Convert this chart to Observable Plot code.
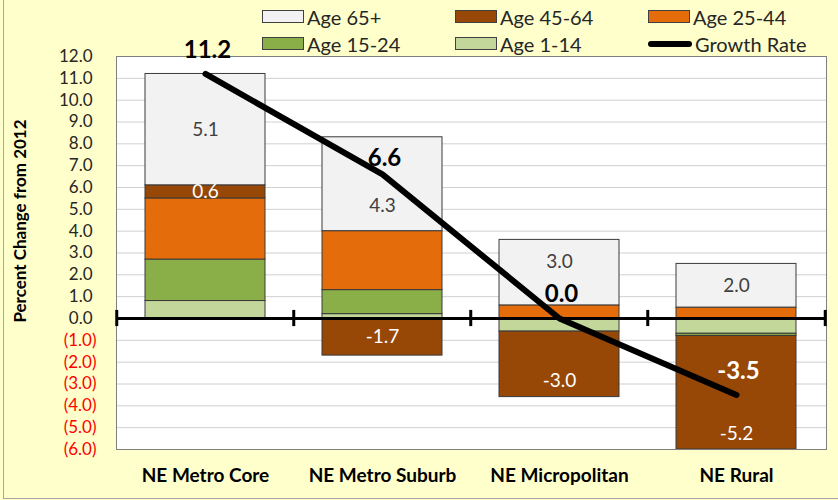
<!DOCTYPE html>
<html><head><meta charset="utf-8">
<script src="https://cdn.jsdelivr.net/npm/d3@7"></script>
<script src="https://cdn.jsdelivr.net/npm/@observablehq/plot@0.6"></script>
<style>
html,body{margin:0;padding:0;overflow:hidden;}
#chart{position:relative;width:838px;height:500px;background:#FFFFCC;font-family:Lato,"Open Sans",sans-serif;overflow:hidden;}
#edge{position:absolute;left:3px;top:-3px;right:-5px;bottom:1px;border:1px solid #a6a6a6;pointer-events:none;}
#legend{position:absolute;left:262px;top:3px;display:grid;grid-template-columns:193px 193px auto;grid-auto-rows:27px;font-size:20px;color:#262626;}
.li{display:flex;align-items:center;gap:3px;}
.sw{width:42px;height:13px;border:1px solid #404040;box-sizing:border-box;}
.ln{width:44px;height:6px;background:#000;border-radius:3px;}
#chart svg{position:absolute;left:0;top:0;}
</style></head><body>
<div id="chart"><div id="edge"></div><div id="legend"></div></div>
<script>
// ---- data ----
const categories = ["NE Metro Core", "NE Metro Suburb", "NE Micropolitan", "NE Rural"];
const ageGroups = ["Age 1-14", "Age 15-24", "Age 25-44", "Age 45-64", "Age 65+"];
const age1to14  = [0.8, 0.2, -0.6, -0.7];
const age15to24 = [1.9, 1.1, 0.0, -0.1];
const age25to44 = [2.8, 2.7, 0.6, 0.5];
const age45to64 = [0.6, -1.7, -3.0, -5.2];
const age65plus = [5.1, 4.3, 3.0, 2.0];
const growthRate = [11.2, 6.6, 0.0, -3.5];
const yTicks = [-6, -5, -4, -3, -2, -1, 0, 1, 2, 3, 4, 5, 6, 7, 8, 9, 10, 11, 12];
const legendOrder = ["Age 65+", "Age 45-64", "Age 25-44", "Age 15-24", "Age 1-14", "Growth Rate"];

// ---- styling ----
const colors = {
  "Age 1-14": "#C4D79B",
  "Age 15-24": "#8AAE48",
  "Age 25-44": "#E46C0A",
  "Age 45-64": "#974706",
  "Age 65+": "#F2F2F2"
};
const seriesValues = {
  "Age 1-14": age1to14, "Age 15-24": age15to24, "Age 25-44": age25to44,
  "Age 45-64": age45to64, "Age 65+": age65plus
};
// label nudges (data units) to keep segment labels clear of the growth labels
const labelNudge = {
  "NE Metro Suburb|Age 65+": -1.0,
  "NE Micropolitan|Age 65+": 0.5,
  "NE Micropolitan|Age 45-64": -0.75,
  "NE Rural|Age 45-64": -1.9
};
const growthLabelNudge = {"NE Metro Suburb": -0.35};

// stacked segments (positives up from 0, negatives down from 0)
const segments = [];
categories.forEach((cat, i) => {
  let pos = 0, neg = 0;
  for (const g of ageGroups) {
    const v = seriesValues[g][i];
    if (v === 0) continue;
    let y1, y2;
    if (v > 0) { y1 = pos; y2 = pos + v; pos = y2; }
    else { y1 = neg; y2 = neg + v; neg = y2; }
    segments.push({cat, group: g, value: v, y1, y2});
  }
});
const labels = segments
  .filter(d => d.group === "Age 65+" || d.group === "Age 45-64")
  .map(d => ({...d, y: (d.y1 + d.y2) / 2 + (labelNudge[d.cat + "|" + d.group] || 0)}));
const growth = categories.map((cat, i) => ({cat, value: growthRate[i], ly: growthRate[i] + (growthLabelNudge[cat] || 0)}));

const W = 838, H = 500, mL = 116, mR = 12, mT = 56, mB = 51;
const step = (W - mL - mR) / categories.length;
const fmt = v => v < 0 ? `(${(-v).toFixed(1)})` : v.toFixed(1);

const plot = Plot.plot({
  width: W, height: H,
  marginLeft: mL, marginRight: mR, marginTop: mT, marginBottom: mB,
  style: {background: "transparent", fontFamily: "Lato, 'Open Sans', sans-serif"},
  x: {domain: categories, paddingInner: 0.32, paddingOuter: 0.16, label: null},
  y: {domain: [-6, 12], label: null},
  marks: [
    Plot.frame({fill: "white", stroke: null}),
    Plot.ruleY(yTicks, {stroke: "#d0d0d0", strokeWidth: 1}),
    Plot.barY(segments, {
      x: "cat", y1: "y1", y2: "y2",
      fill: d => colors[d.group],
      stroke: "#3a3a3a", strokeWidth: 1, insetLeft: 0, insetRight: 0
    }),
    Plot.frame({stroke: "#7f7f7f", strokeWidth: 1}),
    Plot.ruleY([0], {stroke: "black", strokeWidth: 3}),
    Plot.ruleX(categories, {x: d => d, y1: -0.37, y2: 0.37, dx: -step / 2, stroke: "black", strokeWidth: 3}),
    Plot.ruleX(categories.slice(-1), {x: d => d, y1: -0.37, y2: 0.37, dx: step / 2, stroke: "black", strokeWidth: 3}),
    Plot.text(labels, {
      x: "cat", y: "y", text: d => d.value.toFixed(1),
      fill: d => d.group === "Age 65+" ? "#404040" : "white",
      fontSize: 19
    }),
    Plot.line(growth, {x: "cat", y: "value", stroke: "black", strokeWidth: 6, strokeLinecap: "round", strokeLinejoin: "round"}),
    Plot.text(growth, {
      x: "cat", y: "ly", text: d => d.value.toFixed(1), dy: -24, dx: 2,
      fill: d => d.value < 0 ? "white" : "black",
      fontSize: 24, fontWeight: "bold"
    }),
    Plot.axisY(yTicks.filter(v => v >= 0), {tickSize: 0, tickPadding: 24, tickFormat: fmt, fontSize: 17, fill: "#262626"}),
    Plot.axisY(yTicks.filter(v => v < 0), {tickSize: 0, tickPadding: 20, tickFormat: fmt, fontSize: 17, fill: "#FF0000"}),
    Plot.axisX({tickSize: 0, tickPadding: 19, fontSize: 19, fontWeight: "bold", fill: "#000"}),
    Plot.text(["Percent Change from 2012"], {frameAnchor: "left", textAnchor: "middle", dx: -96, dy: -32, rotate: -90, fontSize: 17, fontWeight: "bold", fill: "#000"})
  ]
});
document.getElementById("chart").appendChild(plot);

// legend
const legend = document.getElementById("legend");
for (const name of legendOrder) {
  const item = document.createElement("div");
  item.className = "li";
  const sw = document.createElement("span");
  if (name === "Growth Rate") sw.className = "ln";
  else { sw.className = "sw"; sw.style.background = colors[name]; }
  const t = document.createElement("span");
  t.textContent = name;
  item.appendChild(sw); item.appendChild(t);
  legend.appendChild(item);
}
</script>
</body></html>
